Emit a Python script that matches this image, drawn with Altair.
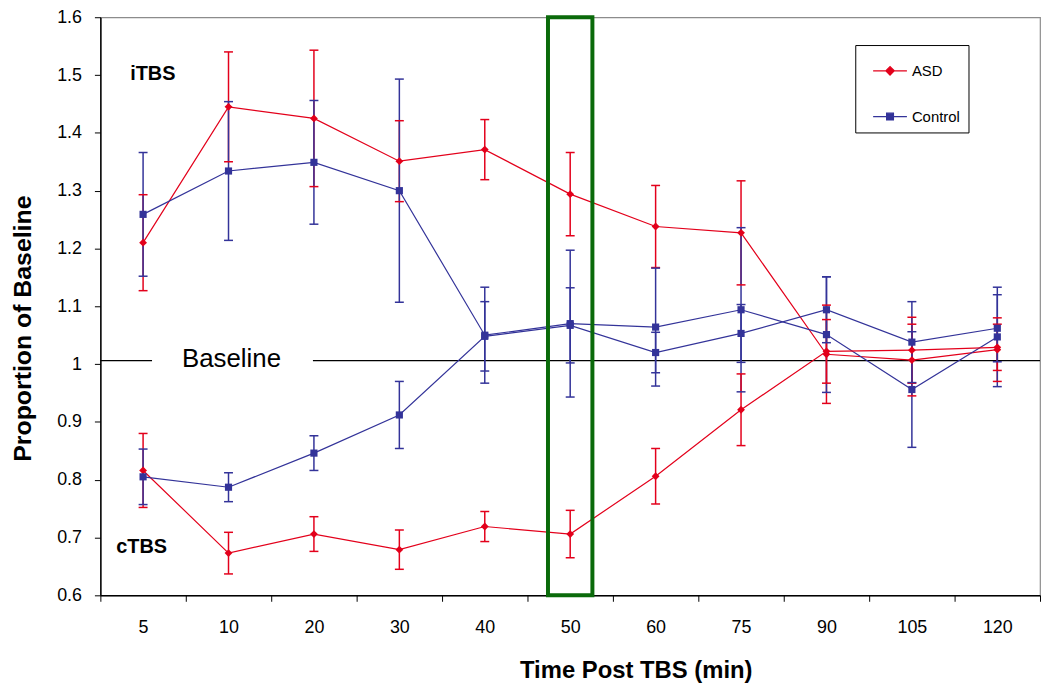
import altair as alt
import pandas as pd

FONT = "Liberation Sans"
RED = "#E3001B"
BLUE = "#333399"
GREEN = "#0A6A0A"

# ---------------- data ----------------
times = ["5", "10", "20", "30", "40", "50", "60", "75", "90", "105", "120"]

itbs_asd = [1.210, 1.445, 1.425, 1.351, 1.371, 1.294, 1.238, 1.227, 1.017, 1.007, 1.025]
itbs_asd_err = [0.083, 0.095, 0.118, 0.070, 0.052, 0.072, 0.071, 0.090, 0.085, 0.062, 0.055]

itbs_ctrl = [1.259, 1.334, 1.349, 1.300, 1.050, 1.070, 1.064, 1.094, 1.051, 0.956, 1.047]
itbs_ctrl_err = [0.107, 0.120, 0.107, 0.193, 0.083, 0.127, 0.102, 0.142, 0.100, 0.100, 0.086]

ctbs_asd = [0.816, 0.673, 0.706, 0.679, 0.719, 0.706, 0.806, 0.921, 1.022, 1.024, 1.029]
ctbs_asd_err = [0.064, 0.036, 0.030, 0.034, 0.026, 0.041, 0.048, 0.062, 0.055, 0.057, 0.040]

ctbs_ctrl = [0.805, 0.787, 0.846, 0.912, 1.048, 1.067, 1.020, 1.053, 1.094, 1.038, 1.062]
ctbs_ctrl_err = [0.048, 0.025, 0.030, 0.058, 0.060, 0.065, 0.035, 0.050, 0.057, 0.070, 0.058]

groups = ["ASD", "Control"]
y_ticks = [0.6, 0.7, 0.8, 0.9, 1.0, 1.1, 1.2, 1.3, 1.4, 1.5, 1.6]

baseline_level = [1.006]
highlight_time = ["50"]
highlight_lo = [0.6]
highlight_hi = [1.6]

# ---------------- tables ----------------
rows = []
for proto, grp, vals, errs in [
    ("iTBS", "ASD", itbs_asd, itbs_asd_err),
    ("iTBS", "Control", itbs_ctrl, itbs_ctrl_err),
    ("cTBS", "ASD", ctbs_asd, ctbs_asd_err),
    ("cTBS", "Control", ctbs_ctrl, ctbs_ctrl_err),
]:
    for t, v, e in zip(times, vals, errs):
        rows.append(dict(time=t, group=grp, protocol=proto, value=v, lo=v - e, hi=v + e))
df = pd.DataFrame(rows)

base_df = pd.DataFrame({"level": baseline_level})
hl_df = pd.DataFrame({"time": highlight_time, "lo": highlight_lo, "hi": highlight_hi})

# ---------------- encodings ----------------
x_enc = alt.X(
    "time:N",
    sort=times,
    scale=alt.Scale(type="band", domain=times, paddingInner=0, paddingOuter=0),
    axis=alt.Axis(
        title="Time Post TBS (min)",
        labelAngle=0,
        tickBand="extent",
        tickSize=6,
        tickColor="black",
        domainColor="black",
        domainWidth=1.5,
        labelFont=FONT,
        labelFontSize=18,
        labelColor="black",
        labelPadding=17,
        titleFont=FONT,
        titleFontSize=24,
        titleFontWeight="bold",
        titleColor="black",
        titleX=539,
        titleY=83,
        titleBaseline="alphabetic",
        grid=False,
    ),
)

y_scale = alt.Scale(domain=[0.6, 1.6], nice=False, zero=False)
y_axis = alt.Axis(
    values=y_ticks,
    format=".1~f",
    title="Proportion of Baseline",
    grid=False,
    tickSize=6,
    tickColor="black",
    domainColor="black",
    domainWidth=1.5,
    labelFont=FONT,
    labelFontSize=18,
    labelColor="black",
    labelPadding=13,
    titleFont=FONT,
    titleFontSize=25,
    titleFontWeight="bold",
    titleColor="black",
    titleX=-70,
    titleY=313,
    titleBaseline="alphabetic",
)

ASD_PATH = "M-1,0L1,0M-0.25,0L0,-0.25L0.25,0L0,0.25Z"
CTRL_PATH = "M-1,0L1,0M-0.2,-0.2L0.2,-0.2L0.2,0.2L-0.2,0.2Z"

legend = alt.Legend(
    title=None,
    orient="none",
    legendX=760,
    legendY=28,
    direction="vertical",
    strokeColor="black",
    fillColor="white",
    padding=8,
    rowPadding=20,
    symbolSize=1156,
    symbolStrokeWidth=1.3,
    symbolOpacity=1,
    symbolOffset=9,
    labelFont=FONT,
    labelFontSize=15,
    labelColor="black",
    labelOffset=4,
)

color_scale = alt.Scale(domain=groups, range=[RED, BLUE])
color_enc = alt.Color("group:N", scale=color_scale, legend=legend)

base = alt.Chart(df)

err_rules = base.mark_rule(strokeWidth=1.5).encode(
    x=x_enc, y=alt.Y("lo:Q", scale=y_scale, axis=y_axis), y2="hi:Q", color=color_enc
)
cap_lo = base.mark_tick(size=9, thickness=1.5, opacity=1).encode(
    x=x_enc, y=alt.Y("lo:Q", scale=y_scale), color=color_enc
)
cap_hi = base.mark_tick(size=9, thickness=1.5, opacity=1).encode(
    x=x_enc, y=alt.Y("hi:Q", scale=y_scale), color=color_enc
)
lines = base.mark_line(strokeWidth=1.2).encode(
    x=x_enc, y=alt.Y("value:Q", scale=y_scale), color=color_enc, detail="protocol:N"
)
pts_asd = base.transform_filter(alt.datum.group == "ASD").mark_point(
    shape="diamond", filled=True, size=62, opacity=1
).encode(x=x_enc, y=alt.Y("value:Q", scale=y_scale), color=color_enc)
pts_ctrl = base.transform_filter(alt.datum.group == "Control").mark_point(
    shape="square", filled=True, size=52, opacity=1
).encode(x=x_enc, y=alt.Y("value:Q", scale=y_scale), color=color_enc)

# legend-only layer (draws no marks; provides line+marker legend symbols)
legend_layer = base.transform_filter("false").mark_point(
    filled=True, size=1156, opacity=1, strokeWidth=1.3
).encode(
    x=x_enc,
    y=alt.Y("value:Q", scale=y_scale),
    color=color_enc,
    stroke=alt.Stroke("group:N", scale=color_scale, legend=legend),
    shape=alt.Shape("group:N", scale=alt.Scale(domain=groups, range=[ASD_PATH, CTRL_PATH]), legend=legend),
)

# Baseline annotation
bl_left = alt.Chart(base_df).mark_rule(color="black", strokeWidth=1.3).encode(
    x=alt.value(0), x2=alt.value(52), y=alt.Y("level:Q", scale=y_scale)
)
bl_right = alt.Chart(base_df).mark_rule(color="black", strokeWidth=1.3).encode(
    x=alt.value(214), x2=alt.value(946), y=alt.Y("level:Q", scale=y_scale)
)
bl_text = alt.Chart(base_df).mark_text(
    text="Baseline", font=FONT, fontSize=26, color="black", align="center", baseline="alphabetic", dy=6
).encode(x=alt.value(132), y=alt.Y("level:Q", scale=y_scale))

itbs_df = pd.DataFrame({"label": ["iTBS"], "pos": [1.491]})
ctbs_df = pd.DataFrame({"label": ["cTBS"], "pos": [0.673]})
itbs_text = alt.Chart(itbs_df).mark_text(
    font=FONT, fontSize=20, fontWeight="bold", color="black", align="left", baseline="alphabetic"
).encode(x=alt.value(30), y=alt.Y("pos:Q", scale=y_scale), text="label:N")
ctbs_text = alt.Chart(ctbs_df).mark_text(
    font=FONT, fontSize=20, fontWeight="bold", color="black", align="left", baseline="alphabetic"
).encode(x=alt.value(16), y=alt.Y("pos:Q", scale=y_scale), text="label:N")

highlight = alt.Chart(hl_df).mark_bar(
    fillOpacity=0, stroke=GREEN, strokeWidth=4, width=alt.RelativeBandSize(0.52)
).encode(x=x_enc, y=alt.Y("lo:Q", scale=y_scale), y2="hi:Q")

chart = alt.layer(
    bl_left, bl_right, bl_text, itbs_text, ctbs_text,
    err_rules, cap_lo, cap_hi, lines, pts_asd, pts_ctrl, legend_layer, highlight,
).properties(
    width=946, height=582,
    autosize=alt.AutoSizeParams(type="none"),
    padding={"left": 93, "top": 7, "right": 2, "bottom": 90},
    background="white",
).configure_view(stroke="#8c8c8c", strokeWidth=1.2)

chart.save("out.html", embed_options={"renderer": "svg", "actions": False})
